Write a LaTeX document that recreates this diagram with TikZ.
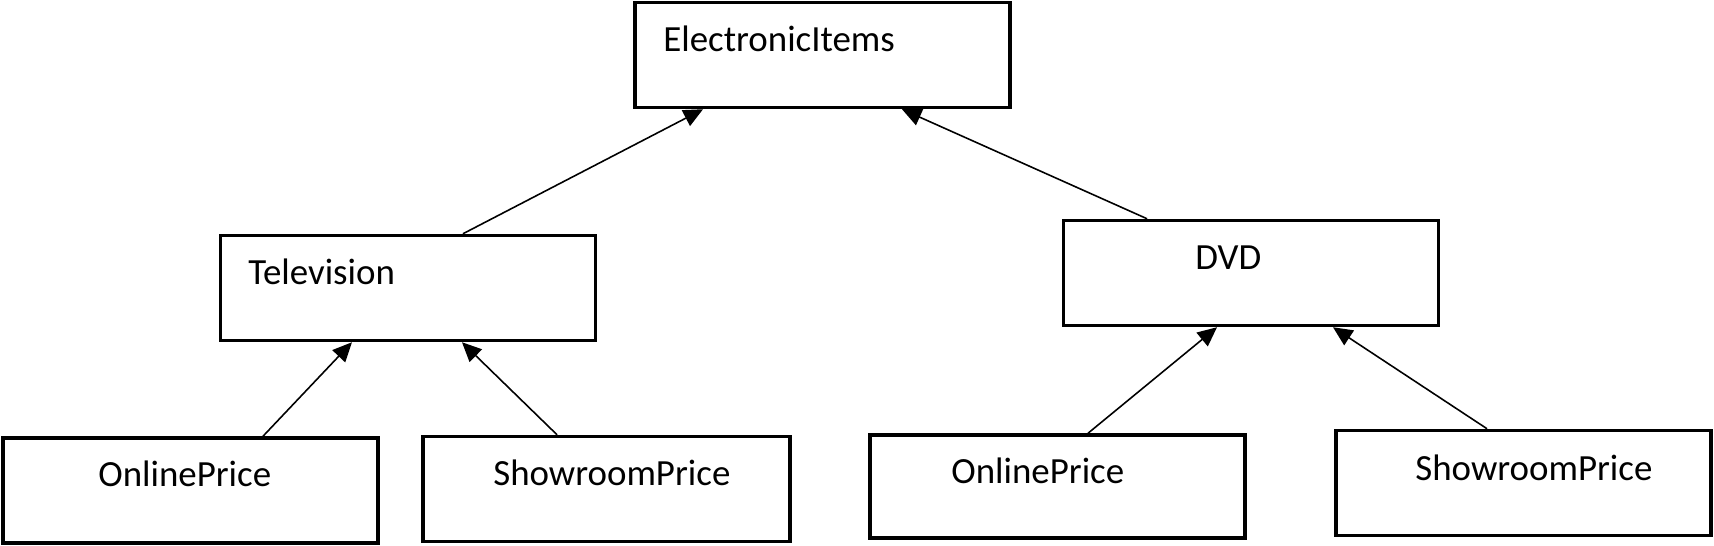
\documentclass[tikz,border=0pt]{standalone}
\usepackage{fontspec}
\setmainfont{Carlito}
\usetikzlibrary{arrows.meta}
\definecolor{rahmen}{RGB}{0,0,0}

\begin{document}
\begin{tikzpicture}[x=0.02cm, y=-0.02cm,
    box/.style={draw=rahmen, line width=2pt, rectangle, minimum width=7.5cm, minimum height=2.1cm, inner sep=0pt},
    txt/.style={anchor=base west, inner sep=0pt, font=\fontsize{21}{25}\selectfont},
    pfeil/.style={line width=0.9pt, -{Triangle[length=11pt, width=10pt]}}]

    \useasboundingbox (0,0) rectangle (1714,546);

    \node[box] (items) at (822.5,55) {};
    \node[box] (tv) at (408,288) {};
    \node[box] (dvd) at (1251,273) {};
    \node[box] (tvonline) at (190.5,490.5) {};
    \node[box, minimum width=7.34cm] (tvshowroom) at (606.5,489) {};
    \node[box, minimum width=7.5cm, minimum height=2.06cm] (dvdonline) at (1057.5,486.5) {};
    \node[box] (dvdshowroom) at (1523.5,483) {};

    \node[txt] (itemstext) at (663,52) {ElectronicItems};
    \node[txt] (tvtext) at (248,285) {Television};
    \node[txt] (dvdtext) at (1195,270) {DVD};
    \node[txt] (tvonlinetext) at (98,487) {OnlinePrice};
    \node[txt] (tvshowroomtext) at (493,486) {ShowroomPrice};
    \node[txt] (dvdonlinetext) at (951,484) {OnlinePrice};
    \node[txt] (dvdshowroomtext) at (1415,481) {ShowroomPrice};

    \draw[pfeil] ([xshift=1.1cm]tv.north) -- ([xshift=-2.39cm]items.south);
    \draw[pfeil] ([xshift=-2.08cm]dvd.north) -- ([xshift=1.59cm]items.south);
    \draw[pfeil] ([xshift=1.45cm]tvonline.north) -- ([xshift=-1.12cm]tv.south);
    \draw[pfeil] ([xshift=-0.99cm]tvshowroom.north) -- ([xshift=1.08cm]tv.south);
    \draw[pfeil] ([xshift=0.61cm]dvdonline.north) -- ([xshift=-0.68cm]dvd.south);
    \draw[pfeil] ([xshift=-0.73cm]dvdshowroom.north) -- ([xshift=1.64cm]dvd.south);

\end{tikzpicture}
\end{document}
